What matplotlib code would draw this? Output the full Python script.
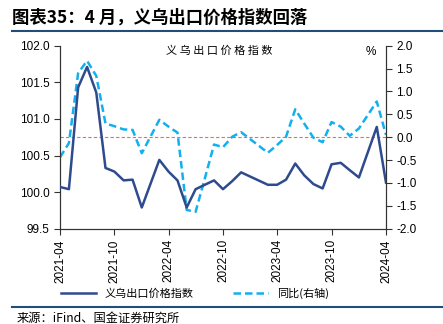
import numpy as np
import pandas as pd
import matplotlib
matplotlib.use("Agg")
import matplotlib.pyplot as plt
import matplotlib.dates as mdates

plt.rcParams['font.family'] = ['Liberation Sans', 'Noto Sans CJK SC', 'DejaVu Sans']

# months with data (Feb of some years missing)
months = ["2021-04", "2021-05", "2021-06", "2021-07", "2021-08", "2021-09",
          "2021-10", "2021-11", "2021-12", "2022-01", "2022-03", "2022-04",
          "2022-05", "2022-06", "2022-07", "2022-08", "2022-09", "2022-10",
          "2022-11", "2022-12", "2023-03", "2023-04", "2023-05", "2023-06",
          "2023-07", "2023-08", "2023-09", "2023-10", "2023-11", "2023-12",
          "2024-01", "2024-03", "2024-04"]
# 义乌出口价格指数 (left axis)
index_vals = [100.07, 100.04, 101.43, 101.71, 101.36, 100.33,
              100.28, 100.16, 100.17, 99.79, 100.44, 100.28,
              100.16, 99.79, 100.04, 100.10, 100.16, 100.04,
              100.15, 100.27, 100.10, 100.10, 100.17, 100.39,
              100.23, 100.11, 100.05, 100.38, 100.40, 100.30,
              100.20, 100.89, 100.13]
# 同比 % (right axis)
yoy_vals = [-0.44, -0.13, 1.40, 1.67, 1.34, 0.30,
            0.24, 0.17, 0.16, -0.35, 0.38, 0.23,
            0.10, -1.59, -1.63, -0.90, -0.16, -0.22,
            0.01, 0.11, -0.34, -0.17, 0.01, 0.61,
            0.30, -0.01, -0.11, 0.33, 0.23, 0.03,
            0.19, 0.78, 0.05]
tick_months = ["2021-04", "2021-10", "2022-04", "2022-10", "2023-04", "2023-10", "2024-04"]

dates = pd.to_datetime(months)
ticks = pd.to_datetime(tick_months)

dark = "#2E4B8E"
light = "#12B0EE"
line_col = "#1F4E79"
cjk = ['Noto Sans CJK SC', 'DejaVu Sans']

fig = plt.figure(figsize=(4.43, 3.24), dpi=100)
ax = fig.add_axes([0.1354, 0.2941, 0.7359, 0.5649])
ax2 = ax.twinx()

ax.plot(dates, index_vals, color=dark, lw=1.8, zorder=3)
ax2.plot(dates, yoy_vals, color=light, lw=1.8, ls=(0, (3, 1.6)), zorder=2)
ax2.axhline(0, color="#FF6060", lw=0.8, ls=(0, (3, 2)), zorder=1)

ax.set_ylim(99.5, 102.0)
ax.set_yticks(np.arange(99.5, 102.01, 0.5))
ax.yaxis.set_major_formatter(matplotlib.ticker.FormatStrFormatter('%.1f'))
ax2.set_ylim(-2.0, 2.0)
ax2.set_yticks(np.arange(-2.0, 2.01, 0.5))
ax2.yaxis.set_major_formatter(matplotlib.ticker.FormatStrFormatter('%.1f'))

ax.set_xlim(ticks[0], ticks[-1])
ax.set_xticks(ticks)
ax.xaxis.set_major_formatter(mdates.DateFormatter('%Y-%m'))
plt.setp(ax.get_xticklabels(), rotation=90)

for a in (ax, ax2):
    a.spines['top'].set_visible(False)
    for s in ('left', 'right', 'bottom'):
        a.spines[s].set_color("#333333")
        a.spines[s].set_linewidth(0.8)
    a.tick_params(labelsize=8.5, length=4, width=0.8, colors="#333333", labelcolor="black")
ax.set_zorder(ax2.get_zorder() + 1)
ax.patch.set_visible(False)

ax.text(0.49, 1.0, "义 乌 出 口 价 格 指 数", transform=ax.transAxes, ha='center', va='top',
        fontsize=8, family=cjk)
ax2.text(0.97, 1.0, "%", transform=ax.transAxes, ha='right', va='top', fontsize=8.5)

# legend
fig.legend(handles=[plt.Line2D([], [], color=dark, lw=1.8),
                    plt.Line2D([], [], color=light, lw=1.8, ls=(0, (3, 1.6)))],
           labels=["义乌出口价格指数", "同比(右轴)"], loc='center', bbox_to_anchor=(0.44, 0.093),
           ncol=2, frameon=False, handlelength=3.2, columnspacing=3.5,
           prop={'family': cjk, 'size': 8})

# title, rules and source
fig.text(0.027, 0.945, "图表35：4 月，义乌出口价格指数回落", fontsize=12.5, fontweight='bold',
         style='italic', family=cjk, va='center')
fig.add_artist(plt.Line2D([0.027, 1.0], [0.904, 0.904], color=line_col, lw=1.5))
fig.add_artist(plt.Line2D([0.027, 1.0], [0.052, 0.052], color=line_col, lw=1.5))
fig.text(0.037, 0.018, "来源：iFind、国金证券研究所", fontsize=8.8, family=cjk, va='center')

fig.savefig("out.png", dpi=100)
